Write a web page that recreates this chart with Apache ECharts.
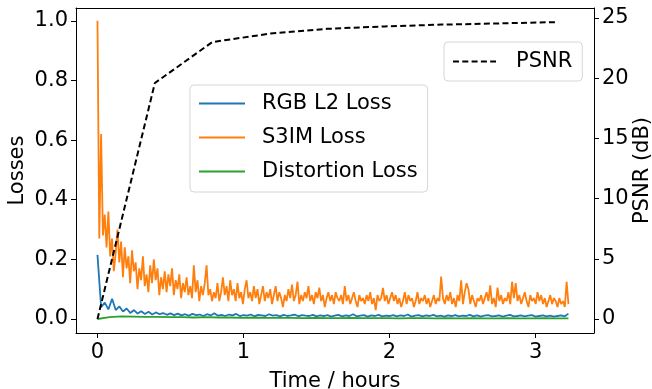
<!DOCTYPE html>
<html>
<head>
<meta charset="utf-8">
<script src="https://cdn.jsdelivr.net/npm/echarts@6/dist/echarts.min.js"></script>
<style>
  html, body { margin: 0; padding: 0; background: #fff; }
  #chart { width: 652px; height: 389px; }
</style>
</head>
<body>
<div id="chart"></div>
<script>
const lossEnd = 3.225

const rgbL2 = [
  0.215, 0.040, 0.055, 0.032, 0.068, 0.030, 0.042, 0.025, 0.035, 0.020,
  0.030, 0.018, 0.026, 0.017, 0.024, 0.015, 0.022, 0.016, 0.020, 0.014,
  0.019, 0.013, 0.018, 0.012, 0.016, 0.011, 0.017, 0.013, 0.015, 0.010,
  0.016, 0.012, 0.019, 0.011, 0.014, 0.010, 0.015, 0.012, 0.017, 0.010,
  0.013, 0.011, 0.015, 0.009, 0.014, 0.012, 0.010, 0.016, 0.011, 0.013,
  0.009, 0.014, 0.010, 0.012, 0.015, 0.009, 0.013, 0.011, 0.010, 0.014,
  0.009, 0.012, 0.010, 0.013, 0.008, 0.011, 0.014, 0.009, 0.012, 0.010,
  0.016, 0.009, 0.011, 0.013, 0.008, 0.012, 0.010, 0.014, 0.009, 0.011,
  0.010, 0.013, 0.009, 0.012, 0.010, 0.015, 0.008, 0.011, 0.013, 0.009,
  0.012, 0.010, 0.014, 0.009, 0.011, 0.008, 0.012, 0.010, 0.013, 0.009,
  0.011, 0.010, 0.014, 0.009, 0.012, 0.008, 0.011, 0.013, 0.009, 0.010,
  0.012, 0.008, 0.011, 0.014, 0.009, 0.010, 0.012, 0.009, 0.011, 0.013,
  0.008, 0.010, 0.012, 0.009, 0.011, 0.008, 0.010, 0.012, 0.009, 0.018
]

const s3im = [
  1.00, 0.27, 0.62, 0.28, 0.35, 0.24, 0.36, 0.21, 0.27, 0.16,
  0.22, 0.30, 0.19, 0.26, 0.14, 0.24, 0.17, 0.21, 0.12, 0.23,
  0.16, 0.19, 0.10, 0.17, 0.13, 0.21, 0.11, 0.15, 0.09, 0.18,
  0.12, 0.20, 0.13, 0.17, 0.08, 0.14, 0.10, 0.16, 0.09, 0.15,
  0.11, 0.17, 0.08, 0.13, 0.10, 0.15, 0.07, 0.12, 0.09, 0.14,
  0.08, 0.11, 0.07, 0.18, 0.09, 0.13, 0.06, 0.11, 0.08, 0.12,
  0.18, 0.08, 0.10, 0.06, 0.09, 0.07, 0.12, 0.06, 0.09, 0.14,
  0.08, 0.11, 0.06, 0.13, 0.08, 0.10, 0.06, 0.12, 0.07, 0.09,
  0.05, 0.10, 0.13, 0.07, 0.09, 0.06, 0.11, 0.07, 0.10, 0.05,
  0.08, 0.11, 0.06, 0.09, 0.07, 0.10, 0.05, 0.08, 0.11, 0.06,
  0.09, 0.07, 0.04, 0.08, 0.06, 0.10, 0.07, 0.115, 0.06, 0.08,
  0.125, 0.05, 0.08, 0.06, 0.09, 0.07, 0.11, 0.06, 0.08, 0.05,
  0.09, 0.07, 0.105, 0.06, 0.08, 0.04, 0.07, 0.09, 0.06, 0.08,
  0.05, 0.09, 0.07, 0.06, 0.08, 0.05, 0.11, 0.06, 0.08, 0.05,
  0.07, 0.09, 0.06, 0.04, 0.08, 0.06, 0.07, 0.05, 0.08, 0.06,
  0.09, 0.05, 0.07, 0.03, 0.08, 0.06, 0.07, 0.104, 0.06, 0.08,
  0.05, 0.07, 0.09, 0.06, 0.08, 0.05, 0.07, 0.04, 0.06, 0.09,
  0.05, 0.08, 0.06, 0.07, 0.04, 0.06, 0.09, 0.05, 0.07, 0.06,
  0.08, 0.05, 0.07, 0.04, 0.06, 0.08, 0.05, 0.07, 0.06, 0.142,
  0.07, 0.05, 0.08, 0.06, 0.09, 0.05, 0.07, 0.04, 0.08, 0.06,
  0.13, 0.05, 0.09, 0.12, 0.10, 0.05, 0.08, 0.06, 0.04, 0.07,
  0.06, 0.08, 0.05, 0.07, 0.09, 0.06, 0.113, 0.05, 0.07, 0.04,
  0.105, 0.06, 0.08, 0.05, 0.07, 0.06, 0.09, 0.05, 0.125, 0.07,
  0.12, 0.06, 0.08, 0.05, 0.07, 0.09, 0.06, 0.04, 0.08, 0.06,
  0.07, 0.05, 0.09, 0.06, 0.08, 0.05, 0.07, 0.04, 0.06, 0.08,
  0.05, 0.07, 0.06, 0.04, 0.07, 0.05, 0.06, 0.04, 0.125, 0.05
]

const distortion = [
  0.000, 0.006, 0.009, 0.008, 0.007, 0.007, 0.006, 0.006, 0.005, 0.006,
  0.005, 0.005, 0.004, 0.005, 0.004, 0.004, 0.004, 0.003, 0.004, 0.003,
  0.003, 0.004, 0.003, 0.003, 0.003, 0.002, 0.003, 0.003, 0.002, 0.003,
  0.002, 0.003, 0.002, 0.002, 0.003, 0.002, 0.002, 0.003, 0.002, 0.002
]

const psnrTime = [0, 0.393, 0.786, 1.179, 1.572, 1.965, 2.358, 2.751, 3.144]
const psnrValue = [0, 19.6, 23.0, 23.7, 24.1, 24.3, 24.45, 24.55, 24.66]

const xTicks = [0, 1, 2, 3]
const lossTicks = [0, 0.2, 0.4, 0.6, 0.8, 1.0]
const psnrTicks = [0, 5, 10, 15, 20, 25]

const font = 'DejaVu Sans'

function spread(values) {
  const n = values.length - 1
  return values.map((v, i) => [i * lossEnd / n, v])
}

const chart = echarts.init(document.getElementById('chart'))

const tickStyle = { show: true, length: 5, inside: false, lineStyle: { color: '#000', width: 1 } }
const lineAxis = { show: true, onZero: false, lineStyle: { color: '#000', width: 1 } }
const labelStyle = { color: '#000', fontSize: 21, fontFamily: font }
const legendBox = {
  orient: 'vertical',
  itemHeight: 20,
  borderColor: '#d6d6d6',
  borderWidth: 1,
  borderRadius: 4,
  backgroundColor: 'rgba(255,255,255,0.8)',
  itemStyle: { opacity: 0 },
}

chart.setOption({
  animation: false,
  backgroundColor: '#fff',
  grid: { left: 76, right: 58, top: 8, bottom: 56, outerBoundsMode: 'none', containLabel: false },
  legend: [
    {
      ...legendBox,
      data: ['RGB L2 Loss', 'S3IM Loss', 'Distortion Loss'],
      left: 190,
      top: 85,
      itemWidth: 46,
      itemGap: 13,
      padding: [8, 10, 10, 8],
      textStyle: { color: '#000', fontSize: 21, fontFamily: font, padding: [0, 0, 0, 12] },
    },
    {
      ...legendBox,
      data: ['PSNR'],
      left: 444,
      top: 42,
      itemWidth: 43,
      padding: [9, 10, 9, 8],
      textStyle: { color: '#000', fontSize: 21, fontFamily: font, padding: [0, 0, 0, 15] },
    },
  ],
  xAxis: [
    {
      type: 'value',
      min: -0.147,
      max: 3.40,
      name: 'Time / hours',
      nameLocation: 'middle',
      nameGap: 38,
      nameMoveOverlap: false,
      nameTextStyle: labelStyle,
      axisLine: lineAxis,
      axisTick: { ...tickStyle, customValues: xTicks },
      axisLabel: { ...labelStyle, margin: 9, customValues: xTicks, formatter: v => String(v) },
      splitLine: { show: false },
    },
    {
      type: 'value',
      position: 'top',
      min: -0.147,
      max: 3.40,
      axisLine: lineAxis,
      axisTick: { show: false },
      axisLabel: { show: false },
      splitLine: { show: false },
    },
  ],
  yAxis: [
    {
      type: 'value',
      min: -0.047,
      max: 1.043,
      name: 'Losses',
      nameLocation: 'middle',
      nameGap: 48,
      nameMoveOverlap: false,
      nameTextStyle: labelStyle,
      axisLine: lineAxis,
      axisTick: { ...tickStyle, customValues: lossTicks },
      axisLabel: { ...labelStyle, margin: 8, customValues: lossTicks, formatter: v => v.toFixed(1) },
      splitLine: { show: false },
    },
    {
      type: 'value',
      position: 'right',
      min: -1.16,
      max: 25.83,
      name: 'PSNR (dB)',
      nameLocation: 'middle',
      nameRotate: 90,
      nameGap: 38,
      nameMoveOverlap: false,
      nameTextStyle: labelStyle,
      axisLine: lineAxis,
      axisTick: { ...tickStyle, customValues: psnrTicks },
      axisLabel: { ...labelStyle, margin: 8, customValues: psnrTicks, formatter: v => String(v) },
      splitLine: { show: false },
    },
  ],
  series: [
    {
      name: 'RGB L2 Loss',
      type: 'line',
      symbol: 'none',
      color: '#1f77b4',
      lineStyle: { width: 1.8 },
      data: spread(rgbL2),
    },
    {
      name: 'S3IM Loss',
      type: 'line',
      symbol: 'none',
      color: '#ff7f0e',
      lineStyle: { width: 1.8 },
      data: spread(s3im),
    },
    {
      name: 'Distortion Loss',
      type: 'line',
      symbol: 'none',
      color: '#2ca02c',
      lineStyle: { width: 1.8 },
      data: spread(distortion),
    },
    {
      name: 'PSNR',
      type: 'line',
      yAxisIndex: 1,
      symbol: 'none',
      color: '#000',
      lineStyle: { width: 2, type: [6, 3.3] },
      data: psnrTime.map((t, i) => [t, psnrValue[i]]),
    },
  ],
})
</script>
</body>
</html>
